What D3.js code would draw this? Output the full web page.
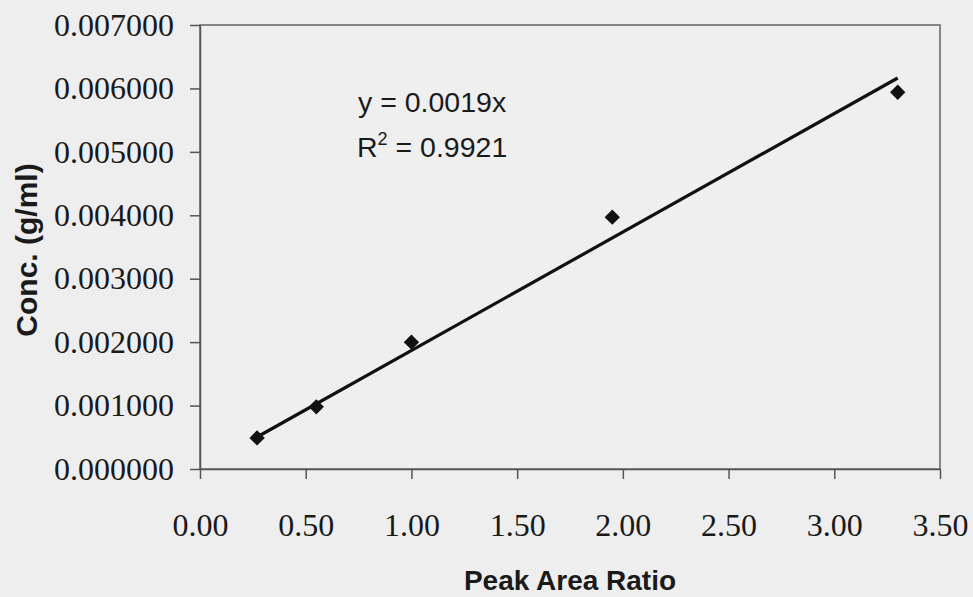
<!DOCTYPE html>
<html>
<head>
<meta charset="utf-8">
<script src="https://cdn.jsdelivr.net/npm/d3@7"></script>
<style>
html,body{margin:0;padding:0;background:#eeeeee;}
svg{display:block;}
</style>
</head>
<body>
<script>
// Data
const peakAreaRatio = [0.27, 0.55, 1.00, 1.95, 3.30];
const concentration = [0.00049, 0.00098, 0.00200, 0.00397, 0.00594];
const xTicks = [0, 0.5, 1.0, 1.5, 2.0, 2.5, 3.0, 3.5];
const yTicks = [0, 0.001, 0.002, 0.003, 0.004, 0.005, 0.006, 0.007];
const equationText = "y = 0.0019x";
const r2Value = "0.9921";
const xTitle = "Peak Area Ratio";
const yTitle = "Conc. (g/ml)";

const W = 973, H = 597;
const m = {left: 200, right: 33, top: 25, bottom: 128};

const svg = d3.select("body").append("svg").attr("width", W).attr("height", H);
svg.append("rect").attr("width", W).attr("height", H).attr("fill", "#eeeeee");

const x = d3.scaleLinear().domain([0, 3.5]).range([m.left, W - m.right]);
const y = d3.scaleLinear().domain([0, 0.007]).range([H - m.bottom, m.top]);

// plot frame
svg.append("rect")
  .attr("x", x(0)).attr("y", y(0.007))
  .attr("width", x(3.5) - x(0)).attr("height", y(0) - y(0.007))
  .attr("fill", "#efefef").attr("stroke", "#666").attr("stroke-width", 1.5);

const serif = "'Liberation Serif','Times New Roman',serif";
const sans = "'Liberation Sans',Arial,sans-serif";

const xAxis = svg.append("g").attr("transform", `translate(0,${y(0)})`)
  .call(d3.axisBottom(x).tickValues(xTicks).tickFormat(d3.format(".2f")).tickSizeInner(10).tickSizeOuter(0).tickPadding(34));
const yAxis = svg.append("g").attr("transform", `translate(${x(0)},0)`)
  .call(d3.axisLeft(y).tickValues(yTicks).tickFormat(d3.format(".6f")).tickSizeInner(10).tickSizeOuter(0).tickPadding(16));

[xAxis, yAxis].forEach(g => {
  g.select(".domain").attr("stroke", "#555").attr("stroke-width", 1.5);
  g.selectAll(".tick line").attr("stroke", "#555").attr("stroke-width", 1.5);
  g.selectAll(".tick text").attr("fill", "#1a1a1a").style("font-family", serif).style("font-size", "32px");
});

// regression through origin
const slope = d3.sum(peakAreaRatio, (v, i) => v * concentration[i]) / d3.sum(peakAreaRatio, v => v * v);
const xr = d3.extent(peakAreaRatio);
svg.append("line")
  .attr("x1", x(xr[0])).attr("y1", y(slope * xr[0]))
  .attr("x2", x(xr[1])).attr("y2", y(slope * xr[1]))
  .attr("stroke", "#111").attr("stroke-width", 3.2);

// markers
svg.selectAll("path.pt").data(peakAreaRatio).enter().append("path")
  .attr("class", "pt")
  .attr("d", d3.symbol().type(d3.symbolDiamond2).size(150))
  .attr("transform", (d, i) => `translate(${x(d)},${y(concentration[i])})`)
  .attr("fill", "#111");

// equation
const eq = svg.append("g").style("font-family", sans).style("font-size", "28.5px").attr("fill", "#1a1a1a");
eq.append("text").attr("x", 358).attr("y", 112).text(equationText);
const r2 = eq.append("text").attr("x", 357).attr("y", 157);
r2.append("tspan").text("R");
r2.append("tspan").attr("dy", -12).style("font-size", "18px").text("2");
r2.append("tspan").attr("dy", 12).text(" = " + r2Value);

// axis titles
svg.append("text").attr("x", (x(0) + x(3.5)) / 2).attr("y", 590)
  .attr("text-anchor", "middle").style("font-family", sans).style("font-weight", "bold")
  .style("font-size", "28px").attr("fill", "#1a1a1a").text(xTitle);
svg.append("text").attr("transform", `translate(37,${(y(0) + y(0.007)) / 2 + 3}) rotate(-90)`)
  .attr("text-anchor", "middle").style("font-family", sans).style("font-weight", "bold")
  .style("font-size", "30px").attr("fill", "#1a1a1a").text(yTitle);
</script>
</body>
</html>
